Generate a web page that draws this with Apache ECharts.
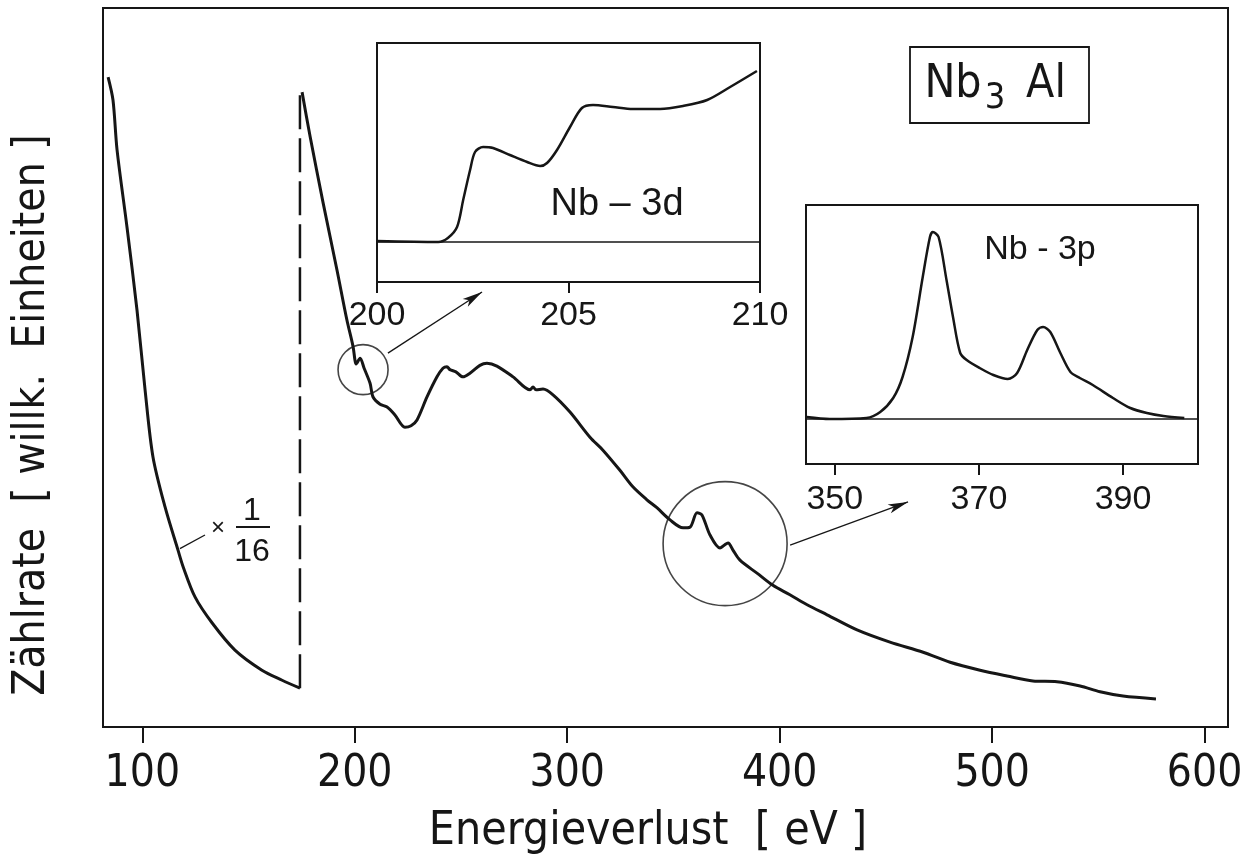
<!DOCTYPE html>
<html>
<head>
<meta charset="utf-8">
<title>Nb3Al Energieverlust</title>
<script src="https://cdn.jsdelivr.net/npm/echarts@6/dist/echarts.min.js"></script>
<style>
  html, body { margin: 0; padding: 0; background: #fff; }
  #main { width: 1248px; height: 859px; }
</style>
</head>
<body>
<div id="main"></div>
<script>
/********* data *********/
// main spectrum, part 1 (scaled x 1/16)
var seg1Energy = [83.9, 86.2, 88.1, 92.8, 97.5, 101.3, 105.0, 110.7, 116.8, 119.2, 124.8, 132.8, 143.6, 156.3, 165.8, 174.2];
var seg1Count  = [90.4, 87.2, 80.3, 69.5, 58.0, 46.9, 37.6, 30.6, 24.6, 22.3, 18.1, 14.5, 10.7, 7.9, 6.5, 5.4];
// jump between both parts (dashed)
var jumpEnergy = 174.2;
// main spectrum, part 2
var seg2Energy = [175.2, 179.0, 185.1, 191.6, 196.3, 199.2, 200.1, 200.6, 202.5, 204.4, 207.2, 208.6, 211.9, 215.2, 218.9,
  223.6, 226.5, 229.3, 234.0, 238.7, 241.5, 243.4, 244.8, 247.6, 250.9, 254.2, 258.9, 262.2, 266.9, 274.5,
  282.5, 283.9, 285.3, 288.6, 293.3, 301.3, 310.7, 316.8, 324.8, 330.9, 337.5, 342.2, 348.4, 354.5, 357.8,
  361.1, 363.4, 367.2, 371.9, 375.7, 378.0, 381.3, 389.3, 396.8, 404.8, 412.9, 422.3, 436.4, 451.9, 467.5,
  480.2, 494.3, 507.0, 519.2, 530.5, 541.4, 550.8, 561.6, 577.1];
var seg2Count = [88.3, 82.1, 72.9, 63.6, 56.6, 52.9, 51.0, 50.5, 51.3, 49.9, 47.8, 45.9, 44.9, 44.5, 43.4,
  41.7, 41.9, 42.7, 45.9, 48.7, 49.9, 50.1, 49.7, 49.4, 48.7, 49.2, 50.3, 50.6, 50.2, 48.7,
  46.9, 47.3, 46.9, 47.0, 46.2, 43.8, 40.3, 38.5, 35.7, 33.4, 31.6, 30.5, 28.8, 27.7, 27.8,
  29.8, 29.5, 26.7, 24.9, 25.6, 24.6, 23.2, 21.4, 19.7, 18.4, 17.0, 15.6, 13.5, 11.8, 10.4,
  9.0, 7.9, 7.1, 6.4, 6.3, 5.7, 4.9, 4.3, 3.9];
var mainTicks = [100, 200, 300, 400, 500, 600];

// inset Nb - 3d
var nb3dEnergy = [200.0, 201.6, 201.85, 202.09, 202.25, 202.43, 202.56, 202.77, 203.03, 203.47, 203.92, 204.26,
  204.44, 204.70, 205.04, 205.35, 205.64, 206.16, 206.68, 207.39, 207.99, 208.62, 209.22, 209.92];
var nb3dCount = [1, 0, 4, 15, 42, 72, 90, 95, 94, 87, 80, 76, 79, 92, 115, 134, 137, 135, 133, 133, 136, 142, 155, 171];
var nb3dTicks = [200, 205, 210];

// inset Nb - 3p
var nb3pEnergy = [346.1, 349.3, 354.4, 356.3, 358.1, 359.4, 360.8, 362.2, 363.2, 363.6, 364.4, 365.5, 366.4, 367.4,
  368.3, 370.1, 372.0, 374.0, 375.3, 376.7, 378.1, 378.9, 379.9, 381.3, 382.7, 384.0, 385.8, 388.6, 391.0,
  393.3, 395.6, 398.5];
var nb3pCount = [2, 0, 1, 7, 21, 42, 82, 142, 182, 187, 182, 139, 102, 66, 59, 51, 44, 40, 46, 69, 89, 92, 87,
  66, 47, 41, 34, 21, 11, 6, 3, 1];
var nb3pTicks = [350, 370, 390];

// circles marking the edges (energy, count, diameter)
var circleEnergy = [203.9, 374.3];
var circleCount = [49.7, 25.5];
var circleSize = [50, 124];
// arrows to the insets + pointer of "x 1/16": [from, to]
var arrowFrom = [[215.6, 52.0], [404.9, 25.3]];
var arrowTo = [[259.9, 60.5], [460.4, 31.3]];
var pointerFrom = [117.7, 24.8];
var pointerTo = [129.5, 26.7];

/********* styles *********/
var INK = '#161616';
var NARROW = '"Liberation Sans Narrow", "DejaVu Sans Condensed", "Liberation Sans", sans-serif';
var SANS = '"Liberation Sans", "DejaVu Sans", sans-serif';

function zip(xs, ys) {
  var out = [];
  for (var i = 0; i < xs.length; i++) out.push([xs[i], ys[i]]);
  return out;
}

// inset x axis: ticks and labels sit under the box, not at y = 0
function insetX(idx, min, max, ticks, margin) {
  return {
    gridIndex: idx, type: 'value', min: min, max: max,
    axisLine: { show: false, onZero: false },
    axisTick: { show: true, length: 11, customValues: ticks, lineStyle: { color: INK, width: 2 } },
    axisLabel: { customValues: ticks, fontSize: 34, fontFamily: SANS, color: INK, margin: margin },
    splitLine: { show: false }
  };
}

var annoLines = [];
for (var i = 0; i < arrowFrom.length; i++) {
  annoLines.push([{ coord: arrowFrom[i], symbol: 'none' }, { coord: arrowTo[i], symbol: 'arrow', symbolSize: [7, 20] }]);
}
annoLines.push([{ coord: pointerFrom, symbol: 'none' }, { coord: pointerTo, symbol: 'none' }]);

var text = function (x, y, str, size, family, extra) {
  var el = {
    type: 'text', x: x, y: y, silent: true,
    style: { text: str, fontSize: size, fontFamily: family, fill: INK, align: 'center', verticalAlign: 'middle' }
  };
  if (extra) for (var k in extra) el[k] = extra[k];
  return el;
};

var option = {
  animation: false,
  backgroundColor: '#fff',
  grid: [
    { left: 103, top: 8, width: 1125, height: 719, show: true, borderColor: INK, borderWidth: 2, backgroundColor: 'transparent' },
    { left: 377, top: 43, width: 383, height: 239, show: true, borderColor: INK, borderWidth: 2, backgroundColor: '#fff' },
    { left: 806, top: 205, width: 392, height: 259, show: true, borderColor: INK, borderWidth: 2, backgroundColor: '#fff' }
  ],
  xAxis: [
    {
      gridIndex: 0, type: 'value', min: 81.5, max: 611,
      axisLine: { show: false, onZero: false },
      axisTick: { show: true, length: 16, customValues: mainTicks, lineStyle: { color: INK, width: 2 } },
      axisLabel: { customValues: mainTicks, fontSize: 44, fontFamily: NARROW, color: INK, margin: 26 },
      splitLine: { show: false }
    },
    insetX(1, 200, 210, nb3dTicks, 17),
    insetX(2, 346, 400.4, nb3pTicks, 19)
  ],
  yAxis: [
    { gridIndex: 0, type: 'value', min: 0, max: 100, show: false },
    { gridIndex: 1, type: 'value', min: -40, max: 199, show: false },
    { gridIndex: 2, type: 'value', min: -45, max: 214, show: false }
  ],
  series: [
    {
      name: 'x 1/16', type: 'line', xAxisIndex: 0, yAxisIndex: 0,
      data: zip(seg1Energy, seg1Count), showSymbol: false, smooth: 0.3,
      lineStyle: { color: INK, width: 3 }
    },
    {
      name: 'Sprung', type: 'line', xAxisIndex: 0, yAxisIndex: 0,
      data: [[jumpEnergy, seg1Count[seg1Count.length - 1]], [jumpEnergy, seg2Count[0]]],
      showSymbol: false,
      lineStyle: { color: INK, width: 2.5, type: [34, 9] }
    },
    {
      name: 'Nb3Al', type: 'line', xAxisIndex: 0, yAxisIndex: 0,
      data: zip(seg2Energy, seg2Count), showSymbol: false, smooth: 0.3,
      lineStyle: { color: INK, width: 3 },
      markLine: {
        silent: true, animation: false,
        label: { show: false },
        lineStyle: { color: INK, width: 1.3, type: 'solid' },
        data: annoLines
      }
    },
    {
      name: 'Kreise', type: 'scatter', xAxisIndex: 0, yAxisIndex: 0,
      data: zip(circleEnergy, circleCount),
      symbol: 'circle',
      symbolSize: function (val, params) { return circleSize[params.dataIndex]; },
      itemStyle: { color: 'rgba(0,0,0,0)', borderColor: INK, borderWidth: 1.6 },
      silent: true
    },
    {
      name: 'Nb - 3d', type: 'line', xAxisIndex: 1, yAxisIndex: 1,
      data: zip(nb3dEnergy, nb3dCount), showSymbol: false, smooth: 0.3,
      lineStyle: { color: INK, width: 2.5 },
      markLine: {
        silent: true, symbol: 'none', label: { show: false },
        lineStyle: { color: INK, width: 1.5, type: 'solid' },
        data: [{ yAxis: 0 }]
      }
    },
    {
      name: 'Nb - 3p', type: 'line', xAxisIndex: 2, yAxisIndex: 2,
      data: zip(nb3pEnergy, nb3pCount), showSymbol: false, smooth: 0.3,
      lineStyle: { color: INK, width: 2.5 },
      markLine: {
        silent: true, symbol: 'none', label: { show: false },
        lineStyle: { color: INK, width: 1.5, type: 'solid' },
        data: [{ yAxis: 0 }]
      }
    }
  ],
  graphic: [
    // axis titles
    text(648, 832, 'Energieverlust  [ eV ]', 46, NARROW),
    text(33, 415, 'Zählrate  [ willk.  Einheiten ]', 44, NARROW, { rotation: Math.PI / 2 }),
    // inset labels
    text(617, 205, 'Nb – 3d', 38, SANS),
    text(1040, 250, 'Nb - 3p', 34, SANS),
    // Nb3Al box
    {
      type: 'rect', silent: true,
      shape: { x: 910, y: 47, width: 179, height: 76 },
      style: { fill: 'none', stroke: INK, lineWidth: 1.8 }
    },
    text(953, 85, 'Nb', 46, NARROW),
    text(995, 99, '3', 36, NARROW),
    text(1046, 85, 'Al', 46, NARROW),
    // x 1/16
    text(218, 528, '×', 24, SANS),
    text(252, 511, '1', 32, SANS),
    {
      type: 'line', silent: true,
      shape: { x1: 236, y1: 527, x2: 270, y2: 527 },
      style: { stroke: INK, lineWidth: 1.8 }
    },
    text(252, 552, '16', 32, SANS)
  ]
};

var chart = echarts.init(document.getElementById('main'));
chart.setOption(option);
</script>
</body>
</html>
